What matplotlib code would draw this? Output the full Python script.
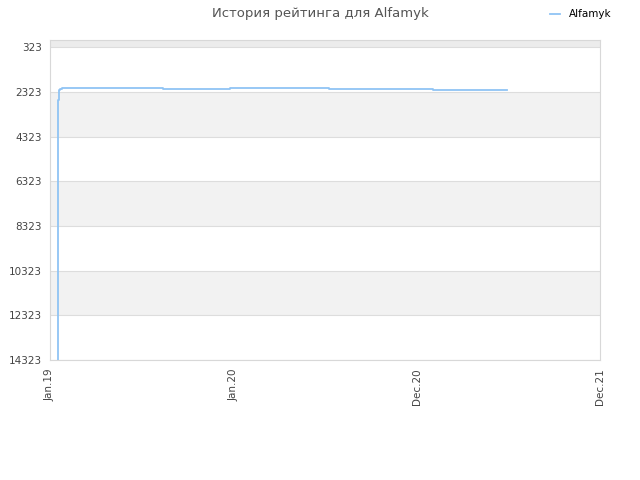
import matplotlib
matplotlib.use("Agg")
import matplotlib.pyplot as plt

# rating history (days since Jan.19, rating place)
days = [16, 16, 17, 17, 18, 18, 20, 20, 24, 109, 109, 225, 225, 325, 358, 358, 434, 434, 555, 555, 762, 762, 910]
rating = [14323, 2700, 2700, 2330, 2330, 2250, 2250, 2190, 2157, 2157, 2145, 2145, 2185, 2185, 2185, 2130, 2130, 2165, 2165, 2205, 2205, 2245, 2245]

tick_pos = [0, 365, 730, 1095]
tick_labels = ["Jan.19", "Jan.20", "Dec.20", "Dec.21"]
y_ticks = [323, 2323, 4323, 6323, 8323, 10323, 12323, 14323]

fig = plt.figure(figsize=(6.4, 4.8), dpi=100)
ax = fig.add_axes([50 / 640, 120 / 480, 550 / 640, 320 / 480])

# alternating bands
ax.axhspan(0, 323, color="#ececec", zorder=0, lw=0)
for i in range(len(y_ticks) - 1):
    if i % 2 == 1:
        ax.axhspan(y_ticks[i], y_ticks[i + 1], color="#f2f2f2", zorder=0, lw=0)
for y in y_ticks:
    ax.axhline(y, color="#dddddd", lw=0.8, zorder=1)

ax.step(days, rating, where="post", color="#90c4f4", lw=1.3, label="Alfamyk", zorder=3)

ax.set_xlim(0, 1095)
ax.set_ylim(14323, 0)
ax.set_yticks(y_ticks)
ax.set_yticklabels([str(v) for v in y_ticks])
ax.set_xticks(tick_pos)
ax.set_xticklabels(tick_labels, rotation=90)
ax.tick_params(labelsize=7.5, colors="#444444", length=0, pad=6)
for s in ax.spines.values():
    s.set_color("#d8d8d8")

fig.suptitle("История рейтинга для Alfamyk", x=0.5, y=0.985, fontsize=9.5, color="#555555")
fig.legend(loc="upper right", bbox_to_anchor=(0.97, 1.0), frameon=False, fontsize=7.5,
           handlelength=1.0)

fig.savefig("out.png", dpi=100)
